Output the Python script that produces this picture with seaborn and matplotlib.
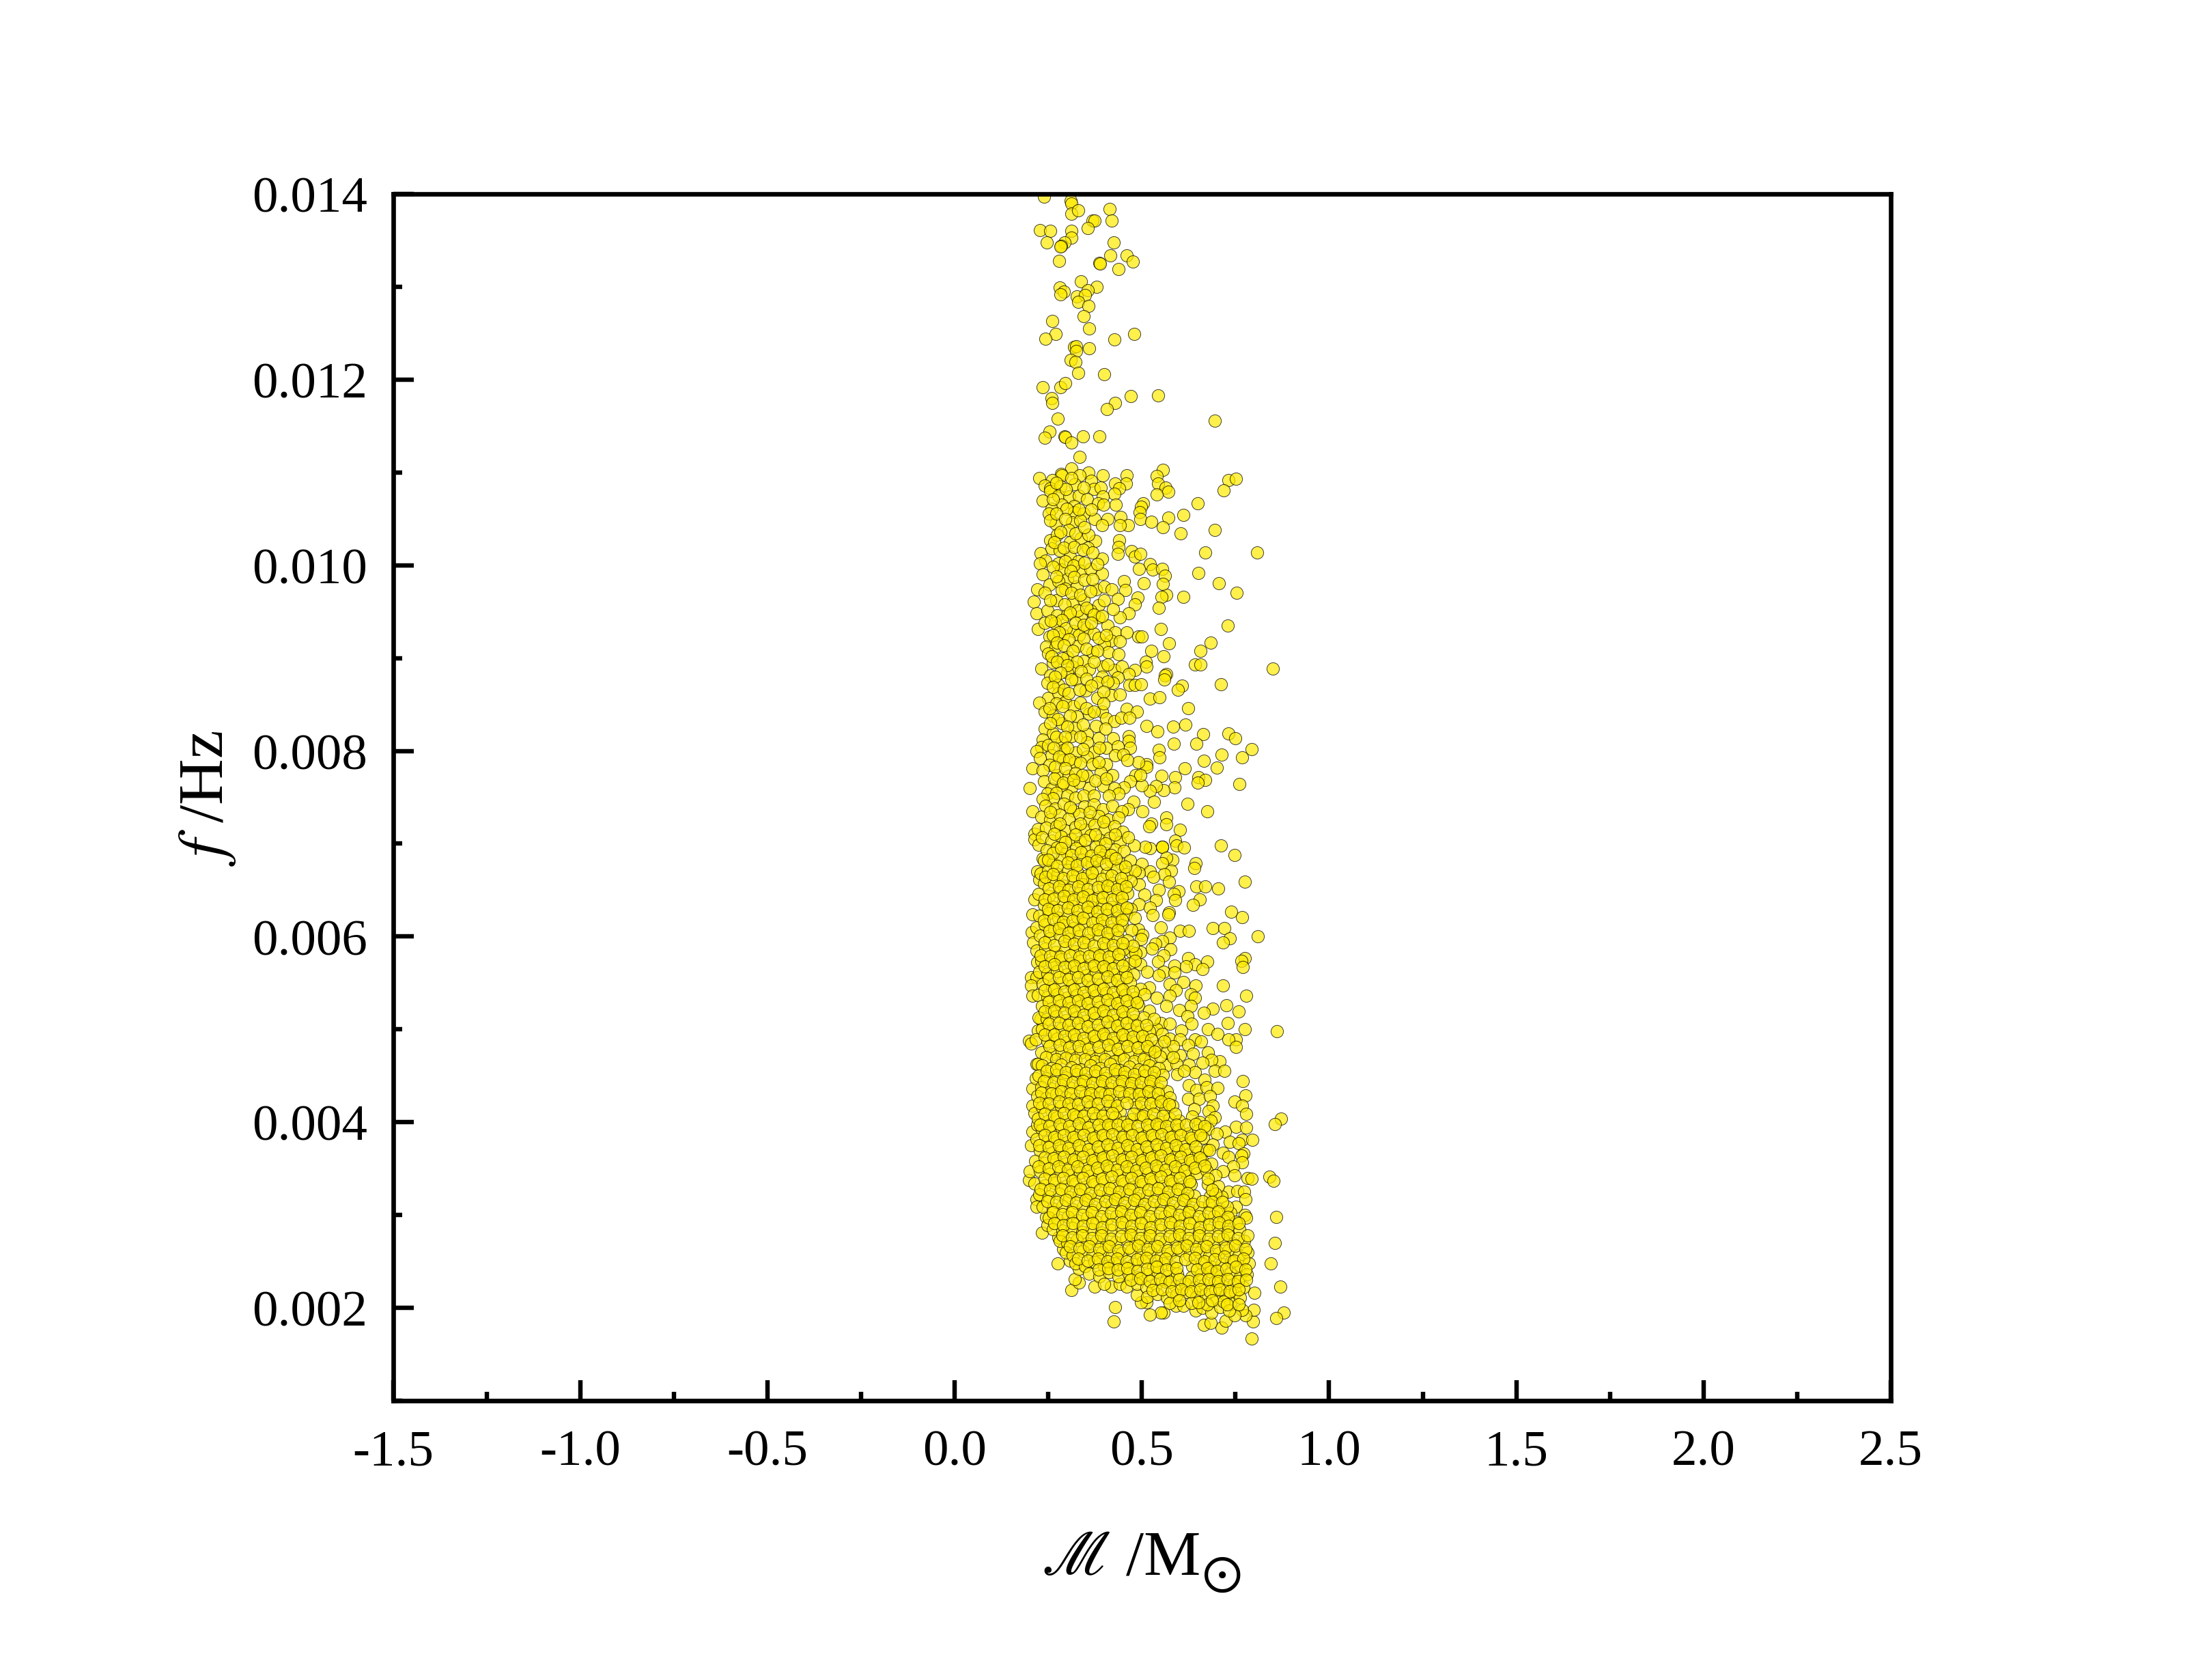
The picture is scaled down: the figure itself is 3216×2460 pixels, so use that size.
import pandas as pd
import matplotlib
matplotlib.use('Agg')
import matplotlib.pyplot as plt
from matplotlib.ticker import MultipleLocator
import seaborn as sns

# chirp mass, frequency pairs, from the top of the cloud down
points_top = [
(.238,.01397),(.309,.01393),(.312,.01390),(.311,.01379),(.330,.01382),(.413,.01384),(.419,.01371),(.368,.01371),
(.374,.01371),(.356,.01363),(.227,.01361),(.255,.01360),(.312,.01360),(.312,.01353),(.246,.01348),(.425,.01348),
(.293,.01348),(.285,.01344),(.282,.01343),(.415,.01334),(.459,.01334),(.475,.01327),(.279,.01328),(.387,.01326),
(.389,.01325),(.438,.01319),(.337,.01306),(.281,.01299),(.379,.01300),(.355,.01296),(.292,.01295),(.283,.01292),
(.327,.01290),(.348,.01291),(.330,.01284),(.358,.01279),(.345,.01268),(.260,.01263),(.360,.01255),(.269,.01249),
(.243,.01244),(.480,.01249),(.427,.01243),(.319,.01235),(.325,.01236),(.325,.01231),(.359,.01234),(.309,.01221),
(.323,.01219),(.330,.01207),(.400,.01206),(.236,.01192),(.283,.01192),(.295,.01196),(.471,.01182),(.544,.01183),
(.259,.01180),(.261,.01175),(.429,.01175),(.406,.01168),(.275,.01158),(.695,.01156),(.254,.01144),(.240,.01137),
(.294,.01139),(.295,.01138),(.311,.01132),(.343,.01139),(.387,.01139),(.334,.01117),(.311,.01104),
]
points_upper = [
(.226,.01094),(.556,.01103),(.539,.01096),(.544,.01088),(.563,.01084),(.571,.01079),(.539,.01076),(.732,.01092),
(.751,.01093),(.719,.01081),(.649,.01067),(.504,.01067),(.498,.01063),(.494,.01057),(.495,.01050),(.611,.01054),
(.570,.01051),(.525,.01047),(.460,.01097),(.458,.01088),(.396,.01097),(.429,.01088),(.440,.01083),(.426,.01077),
(.430,.01065),(.443,.01052),(.409,.01050),(.374,.01050),(.285,.01098),(.286,.01097),(.357,.01100),(.334,.01097),
(.260,.01092),(.241,.01086),(.255,.01083),(.283,.01085),(.320,.01087),(.365,.01091),(.371,.01082),(.390,.01084),
(.255,.01080),(.277,.01075),(.306,.01074),(.332,.01075),(.353,.01071),(.396,.01074),(.236,.01070),(.286,.01065),
(.258,.01061),(.319,.01064),(.382,.01067),(.398,.01065),(.252,.01056),(.319,.01057),(.344,.01056),(.269,.01045),
(.314,.01046),(.335,.01048),(.393,.01043),(.463,.01043),(.441,.01043),(.256,.01048),
(.604,.01034),(.695,.01038),(.556,.01041),(.669,.01014),(.808,.01014),(.650,.00992),(.706,.00981),(.753,.00970),
(.610,.00966),(.566,.00968),(.553,.00966),(.545,.00954),(.729,.00935),(.550,.00931),(.684,.00917),(.573,.00916),
(.657,.00908),(.525,.00908),(.557,.00902),(.642,.00893),(.657,.00893),(.849,.00889),(.511,.00896),(.513,.00891),
(.565,.00883),(.562,.00881),(.559,.00877),(.607,.00870),(.597,.00866),(.711,.00872),(.521,.00856),(.547,.00858),
(.624,.00846),(.512,.00827),(.542,.00821),(.584,.00826),(.616,.00828),(.664,.00818),(.732,.00819),(.749,.00814),
(.586,.00808),(.646,.00808),(.794,.00802),(.545,.00801),(.547,.00793),(.712,.00796),(.768,.00793),(.666,.00789),
(.701,.00782),(.615,.00781),(.512,.00786),(.513,.00783),(.491,.00788),(.553,.00773),(.588,.00772),(.651,.00772),
(.669,.00769),(.649,.00766),(.760,.00764),(.587,.00761),(.557,.00758),(.538,.00762),(.521,.00757),(.499,.00763),
(.484,.00774),(.496,.00774),(.200,.00760),(.208,.00781),
(.472,.01015),(.481,.01009),(.495,.01012),(.521,.01001),(.493,.00996),(.529,.00995),(.554,.00996),(.561,.00989),
(.556,.00980),(.505,.00981),(.488,.00965),(.481,.00958),(.464,.00948),(.441,.00944),(.453,.00983),(.456,.00973),
(.440,.01027),(.438,.01020),(.436,.01012),(.394,.00991),(.393,.01007),(.376,.01026),(.229,.01013),(.243,.01005),
(.227,.01002),(.235,.00990),(.221,.00974),(.212,.00961),(.219,.00948),(.222,.00931),(.256,.01027),(.259,.01018),
(.274,.01033),(.281,.01016),(.308,.01025),(.337,.01029),(.358,.01033),(.356,.01019),(.308,.01009),(.330,.01004),
(.277,.01002),(.285,.00995),(.335,.00994),(.362,.00996),(.381,.01001),(.301,.00985),(.253,.00979),(.277,.00983),
(.326,.00977),(.377,.00974),(.399,.00977),(.420,.00974),(.435,.00964),(.241,.00970),(.271,.00962),(.315,.00960),
(.344,.00963),(.384,.00957),(.423,.00953),(.399,.00962),(.247,.00951),(.274,.00946),(.301,.00947),(.338,.00945),
(.384,.00944),(.362,.00951),(.241,.00938),(.268,.00938),(.317,.00929),(.353,.00932),(.408,.00935),(.429,.00928),
(.459,.00928),(.490,.00923),(.499,.00923),(.253,.00923),(.289,.00925),(.332,.00925),(.371,.00926),(.417,.00919),
(.441,.00918),(.244,.00912),(.269,.00912),(.329,.00913),(.368,.00906),(.399,.00915),(.411,.00906),(.438,.00904),
(.250,.00905),(.301,.00901),(.344,.00897),(.232,.00889),(.262,.00895),(.314,.00891),(.359,.00888),(.396,.00891),
(.426,.00887),(.447,.00891),(.481,.00887),(.464,.00883),(.256,.00881),(.301,.00884),(.323,.00877),(.393,.00880),
(.435,.00879),(.247,.00873),(.277,.00871),(.350,.00865),(.381,.00874),(.423,.00873),(.466,.00871),(.481,.00871),
(.498,.00872),(.250,.00857),(.277,.00862),(.226,.00852),(.295,.00853),(.317,.00848),(.381,.00857),(.417,.00860),
(.441,.00861),(.241,.00842),(.262,.00838),(.326,.00837),(.359,.00840),(.393,.00842),(.405,.00835),(.426,.00832),
(.459,.00845),(.486,.00842),(.444,.00836),(.466,.00836),(.286,.00830),(.241,.00824),(.320,.00825),(.377,.00827),
(.262,.00819),(.311,.00816),(.353,.00818),(.384,.00814),(.423,.00814),(.464,.00816),(.464,.00811),(.235,.00812),
(.286,.00809),(.353,.00809),(.405,.00803),(.436,.00805),(.469,.00803),(.232,.00804),(.218,.00800),(.250,.00806),
(.259,.00795),(.292,.00801),(.323,.00798),(.371,.00799),(.429,.00795),(.450,.00796),(.228,.00792),(.289,.00790),
(.353,.00794),(.462,.00790),(.405,.00786),(.253,.00785),(.235,.00779),(.320,.00788),(.368,.00786),(.274,.00774),
(.238,.00767),(.304,.00773),(.353,.00773),(.390,.00777),(.422,.00774),(.469,.00767),(.453,.00761),(.259,.00759),
(.312,.00761),(.359,.00760),(.398,.00762),(.426,.00760),(.438,.00754),(.247,.00754),(.286,.00763),(.332,.00766),
]
points_upper_dense = [
(.262,.01071),(.297,.01082),(.311,.01094),(.345,.01084),(.272,.01089),(.299,.01061),(.331,.01060),(.364,.01060),(.271,.01056),(.295,.01050),
(.305,.01038),(.283,.01036),(.322,.01034),(.346,.01041),(.267,.01025),(.292,.01019),(.319,.01020),(.343,.01017),(.369,.01014),(.296,.01004),
(.318,.01000),(.347,.01003),(.262,.00998),(.309,.00994),(.272,.00988),(.296,.00975),(.319,.00987),(.347,.00984),(.368,.00985),(.286,.00973),
(.311,.00970),(.336,.00968),(.362,.00972),(.256,.00962),(.293,.00958),(.329,.00951),(.308,.00949),(.352,.00954),(.372,.00947),(.286,.00941),
(.257,.00940),(.298,.00932),(.322,.00938),(.344,.00936),(.365,.00938),(.393,.00945),(.278,.00928),(.262,.00925),(.305,.00920),(.344,.00921),
(.385,.00922),(.405,.00925),(.273,.00917),(.292,.00914),(.316,.00908),(.352,.00910),(.381,.00908),(.288,.00900),(.258,.00902),(.274,.00896),
(.326,.00896),(.301,.00892),(.338,.00886),(.372,.00896),(.409,.00893),(.283,.00884),(.268,.00880),(.312,.00877),(.352,.00878),(.409,.00875),
(.262,.00869),(.292,.00866),(.305,.00862),(.334,.00866),(.364,.00870),(.397,.00864),(.271,.00851),(.288,.00848),(.336,.00852),(.352,.00846),
(.397,.00851),(.253,.00846),(.308,.00838),(.275,.00834),(.343,.00828),(.372,.00842),(.301,.00826),(.255,.00830),(.272,.00815),(.295,.00815),
(.335,.00815),(.402,.00824),(.300,.00803),(.265,.00803),(.342,.00802),(.386,.00803),(.278,.00794),(.306,.00791),(.336,.00787),(.384,.00788),
(.268,.00783),(.296,.00781),(.323,.00776),(.266,.00770),(.340,.00774),(.290,.00766),(.376,.00768),(.318,.00769),(.405,.00770),(.272,.00755),
(.300,.00752),(.322,.00750),(.345,.00752),(.372,.00752),(.412,.00752),(.262,.00749),(.235,.00748),
]
points_middle = [
(.207,.00735),(.622,.00743),(.674,.00735),(.533,.00745),(.478,.00745),(.502,.00735),(.463,.00737),(.566,.00728),
(.566,.00721),(.525,.00722),(.520,.00719),(.601,.00715),(.588,.00703),(.711,.00698),(.747,.00688),(.593,.00698),
(.612,.00696),(.554,.00697),(.554,.00697),(.554,.00697),(.522,.00695),(.508,.00697),(.479,.00698),(.581,.00683),
(.566,.00685),(.554,.00679),(.643,.00679),(.640,.00674),(.499,.00678),(.522,.00670),(.578,.00671),(.560,.00667),
(.530,.00664),(.573,.00659),(.493,.00669),(.492,.00656),(.775,.00659),(.646,.00654),(.669,.00654),(.704,.00652),
(.546,.00650),(.598,.00649),(.585,.00646),(.589,.00639),(.506,.00645),(.538,.00639),(.655,.00640),(.636,.00634),
(.492,.00635),(.521,.00631),(.528,.00623),(.572,.00626),(.570,.00624),(.739,.00627),(.767,.00621),(.550,.00610),
(.601,.00606),(.626,.00606),(.690,.00609),(.720,.00609),(.809,.00600),(.735,.00598),(.716,.00594),(.574,.00599),
(.554,.00595),(.536,.00592),(.527,.00587),(.576,.00586),(.490,.00608),(.502,.00602),(.497,.00597),(.496,.00583),
(.472,.00583),(.484,.00582),(.624,.00577),(.557,.00580),(.543,.00573),(.587,.00569),(.675,.00573),(.642,.00570),
(.618,.00568),(.661,.00565),(.775,.00577),(.765,.00574),(.770,.00567),(.495,.00570),(.514,.00562),(.557,.00562),
(.587,.00561),(.545,.00558),(.611,.00551),(.575,.00549),(.643,.00547),(.717,.00547),(.520,.00545),(.496,.00544),
(.590,.00542),(.630,.00538),(.779,.00536),(.642,.00534),(.539,.00534),(.575,.00536),(.630,.00525),(.726,.00526),
(.566,.00525),(.690,.00522),(.758,.00519),(.666,.00518),(.599,.00521),(.490,.00526),(.519,.00520),(.621,.00514),
(.729,.00507),(.551,.00507),(.575,.00506),(.633,.00506),(.774,.00500),(.861,.00498),(.677,.00500),(.605,.00499),
(.539,.00500),(.702,.00495),(.752,.00489),(.731,.00489),(.751,.00481),(.642,.00489),(.659,.00487),(.554,.00495),
(.575,.00490),(.602,.00489),(.624,.00483),(.676,.00475),(.636,.00474),(.708,.00466),(.686,.00467),(.661,.00464),
(.626,.00462),(.539,.00482),(.566,.00475),(.602,.00472),(.584,.00482),(.524,.00467),(.565,.00461),(.694,.00455),
(.721,.00455),(.642,.00454),(.593,.00463),
(.206,.00605),(.210,.00594),(.207,.00624),(.214,.00640),(.220,.00670),(.226,.00661),(.235,.00684),(.213,.00711),
(.213,.00705),(.222,.00716),(.224,.00699),(.221,.00572),(.205,.00556),(.218,.00556),(.205,.00547),(.207,.00536),
(.198,.00488),(.204,.00485),(.229,.00511),(.222,.00499),(.219,.00463),
(.243,.00741),(.268,.00738),(.291,.00743),(.318,.00736),(.347,.00740),(.372,.00742),(.396,.00737),(.421,.00741),(.447,.00735),
(.232,.00729),(.256,.00726),(.281,.00731),(.305,.00727),(.333,.00732),(.359,.00725),(.384,.00730),(.411,.00726),(.437,.00728),
(.244,.00717),(.271,.00719),(.295,.00714),(.322,.00718),(.349,.00715),(.373,.00720),(.401,.00716),(.426,.00719),(.449,.00713),
(.234,.00707),(.258,.00703),(.284,.00708),(.311,.00705),(.336,.00702),(.362,.00709),(.388,.00704),(.414,.00706),(.441,.00702),(.463,.00707),
(.246,.00693),(.273,.00696),(.299,.00691),(.325,.00695),(.351,.00692),(.377,.00697),(.403,.00690),(.429,.00694),(.452,.00692),
(.238,.00682),(.262,.00679),(.287,.00684),(.314,.00680),(.340,.00683),(.366,.00678),(.392,.00685),(.418,.00681),(.444,.00678),(.469,.00682),
(.229,.00668),(.250,.00671),(.276,.00667),(.302,.00672),(.328,.00669),(.354,.00666),(.380,.00671),(.406,.00668),(.433,.00673),(.458,.00667),(.481,.00671),
(.239,.00657),(.265,.00659),(.291,.00655),(.317,.00660),(.343,.00656),(.369,.00661),(.395,.00654),(.421,.00658),(.447,.00656),(.471,.00660),
(.225,.00646),(.252,.00644),(.278,.00648),(.304,.00643),(.331,.00647),(.357,.00645),(.383,.00642),(.409,.00648),(.435,.00644),(.461,.00647),
(.238,.00634),(.263,.00632),(.289,.00637),(.316,.00633),(.342,.00636),(.368,.00631),(.394,.00635),(.420,.00632),(.446,.00634),(.470,.00630),
(.226,.00622),(.251,.00625),(.277,.00620),(.303,.00624),(.329,.00621),(.355,.00626),(.381,.00619),(.407,.00623),(.433,.00620),(.458,.00624),(.482,.00620),
(.219,.00610),(.240,.00613),(.266,.00608),(.292,.00612),(.318,.00609),(.344,.00614),(.370,.00607),(.396,.00611),(.422,.00608),(.447,.00612),(.472,.00607),
(.228,.00601),(.254,.00598),(.280,.00602),(.306,.00597),(.332,.00600),(.358,.00596),(.384,.00601),(.410,.00597),(.436,.00599),(.461,.00596),
(.218,.00585),(.243,.00587),(.269,.00583),(.295,.00588),(.321,.00584),(.347,.00586),(.373,.00582),(.399,.00587),(.425,.00583),(.451,.00586),(.476,.00590),
(.232,.00574),(.258,.00572),(.284,.00575),(.310,.00571),(.336,.00574),(.362,.00570),(.388,.00576),(.414,.00572),(.440,.00575),(.466,.00571),(.482,.00574),
(.226,.00562),(.247,.00560),(.273,.00563),(.299,.00559),(.325,.00562),(.351,.00558),(.377,.00561),(.403,.00564),(.429,.00559),(.455,.00562),(.477,.00559),
(.235,.00549),(.261,.00546),(.287,.00550),(.313,.00547),(.339,.00549),(.365,.00545),(.391,.00548),(.417,.00551),(.443,.00546),(.469,.00550),
(.222,.00537),(.248,.00535),(.274,.00538),(.300,.00534),(.326,.00537),(.352,.00533),(.378,.00536),(.404,.00539),(.430,.00534),(.456,.00537),(.482,.00534),(.507,.00538),
(.233,.00525),(.259,.00522),(.285,.00526),(.311,.00523),(.337,.00525),(.363,.00521),(.389,.00524),(.415,.00527),(.441,.00522),(.467,.00525),
(.224,.00513),(.246,.00511),(.272,.00514),(.298,.00510),(.324,.00513),(.350,.00509),(.376,.00512),(.402,.00515),(.428,.00510),(.454,.00513),(.480,.00510),(.505,.00513),(.533,.00511),
(.234,.00500),(.260,.00498),(.286,.00501),(.312,.00497),(.338,.00500),(.364,.00496),(.390,.00499),(.416,.00502),(.442,.00497),(.468,.00500),(.494,.00497),(.520,.00498),
(.216,.00489),(.247,.00487),(.273,.00490),(.299,.00486),(.325,.00489),(.351,.00485),(.377,.00488),(.403,.00491),(.429,.00486),(.455,.00489),(.481,.00486),(.507,.00488),(.560,.00487),
(.231,.00475),(.260,.00473),(.286,.00476),(.312,.00472),(.338,.00475),(.364,.00471),(.390,.00474),(.416,.00477),(.442,.00472),(.468,.00475),(.494,.00472),(.520,.00478),(.548,.00471),(.583,.00470),
]
points_middle_dense = [
(.256,.00734),(.281,.00722),(.308,.00739),(.336,.00722),(.361,.00734),(.398,.00724),(.266,.00711),(.296,.00702),(.322,.00710),(.349,.00704),
(.376,.00710),(.402,.00700),(.428,.00710),(.262,.00690),(.285,.00695),(.312,.00688),(.338,.00691),(.364,.00687),(.389,.00692),(.417,.00688),
(.250,.00683),(.274,.00676),(.302,.00680),(.327,.00677),(.353,.00680),(.380,.00682),(.405,.00678),(.431,.00684),(.456,.00675),(.243,.00664),
(.263,.00667),(.289,.00663),(.315,.00666),(.341,.00663),(.367,.00669),(.393,.00662),(.419,.00666),(.445,.00663),(.252,.00652),(.278,.00654),
(.304,.00650),(.330,.00654),(.356,.00651),(.382,.00653),(.408,.00655),(.434,.00651),(.458,.00654),(.240,.00640),(.265,.00641),(.291,.00644),
(.317,.00640),(.343,.00643),(.369,.00639),(.395,.00642),(.421,.00640),(.447,.00642),(.250,.00630),(.276,.00628),(.302,.00631),(.329,.00628),
(.355,.00632),(.381,.00627),(.407,.00630),(.433,.00628),(.459,.00631),(.238,.00617),(.264,.00619),(.290,.00616),(.316,.00617),(.342,.00620),
(.368,.00615),(.394,.00618),(.420,.00615),(.446,.00618),(.253,.00606),(.279,.00609),(.305,.00604),(.331,.00607),(.357,.00604),(.383,.00608),
(.409,.00604),(.435,.00607),(.241,.00594),(.267,.00591),(.293,.00595),(.319,.00592),(.345,.00594),(.371,.00590),(.397,.00593),(.423,.00591),
(.449,.00593),(.230,.00580),(.256,.00579),(.282,.00578),(.308,.00580),(.334,.00578),(.360,.00579),(.386,.00580),(.412,.00578),(.438,.00581),
(.241,.00568),(.267,.00570),(.293,.00567),(.319,.00569),(.345,.00566),(.371,.00569),(.397,.00568),(.423,.00566),(.449,.00569),(.252,.00555),
(.278,.00556),(.304,.00554),(.330,.00556),(.356,.00553),(.382,.00555),(.408,.00557),(.434,.00553),(.460,.00556),(.241,.00542),(.267,.00543),
(.293,.00541),(.319,.00543),(.345,.00540),(.371,.00542),(.397,.00544),(.423,.00540),(.449,.00543),(.475,.00541),(.252,.00530),(.278,.00531),
(.304,.00529),(.330,.00531),(.356,.00528),(.382,.00530),(.408,.00532),(.434,.00528),(.460,.00531),(.486,.00529),(.241,.00519),(.267,.00520),
(.293,.00518),(.319,.00520),(.345,.00516),(.371,.00518),(.397,.00520),(.423,.00516),(.449,.00519),(.475,.00517),(.252,.00506),(.278,.00507),
(.304,.00505),(.330,.00507),(.356,.00503),(.382,.00505),(.408,.00508),(.434,.00504),(.460,.00507),(.486,.00504),(.512,.00505),(.241,.00494),
(.267,.00494),(.293,.00493),(.319,.00494),(.345,.00491),(.371,.00493),(.397,.00495),(.423,.00491),(.449,.00494),(.475,.00492),(.501,.00493),
(.525,.00489),(.254,.00482),(.280,.00483),(.306,.00480),(.332,.00482),(.358,.00479),(.384,.00481),(.410,.00483),(.436,.00479),(.462,.00482),
(.488,.00480),(.514,.00482),(.245,.00470),(.271,.00468),(.297,.00469),(.323,.00467),(.349,.00468),(.375,.00466),(.401,.00468),(.427,.00466),
(.453,.00468),(.479,.00466),(.505,.00468),(.535,.00476),
]
points_lower = [
(.770,.00444),(.777,.00429),(.747,.00422),(.767,.00418),(.778,.00409),(.872,.00404),(.856,.00398),(.752,.00395),
(.779,.00394),(.722,.00390),(.735,.00379),(.767,.00381),(.795,.00381),(.758,.00377),(.716,.00367),(.732,.00363),
(.771,.00366),(.765,.00364),(.768,.00357),(.744,.00352),(.717,.00347),(.747,.00343),(.782,.00340),(.794,.00339),
(.841,.00341),(.852,.00337),(.731,.00325),(.755,.00326),(.773,.00325),(.776,.00317),(.712,.00320),(.751,.00309),
(.736,.00302),(.774,.00300),(.778,.00297),(.858,.00298),(.856,.00270),(.845,.00248),(.869,.00223),(.800,.00216),
(.878,.00195),(.858,.00189),(.793,.00167),(.797,.00185),(.713,.00179),(.723,.00186),(.666,.00182),(.683,.00184),
(.644,.00197),(.661,.00200),(.686,.00195),(.590,.00202),(.557,.00195),(.551,.00195),(.521,.00193),(.513,.00206),
(.497,.00206),(.486,.00214),(.429,.00201),(.425,.00185),(.311,.00219),(.331,.00227),(.320,.00231),(.276,.00248),
(.374,.00223),(.418,.00223),(.441,.00226),(.332,.00242),(.233,.00281),(.798,.00198),(.776,.00192),(.767,.00198),
(.748,.00192),(.736,.00206),(.700,.00209),(.709,.00201),
(.199,.00338),(.201,.00347),(.204,.00375),(.207,.00390),(.207,.00418),(.213,.00410),(.207,.00436),(.216,.00447),
(.222,.00463),(.220,.00397),(.219,.00317),(.219,.00309),(.244,.00298),(.247,.00289),(.277,.00276),(.289,.00263),(.308,.00251),
]
points_core = [
(.233,.00461),(.259,.00458),(.285,.00462),(.311,.00459),(.337,.00457),(.363,.00461),(.389,.00458),(.415,.00463),(.441,.00456),(.467,.00460),(.493,.00457),(.519,.00461),(.545,.00458),(.595,.00452),(.612,.00455),
(.224,.00450),(.246,.00447),(.272,.00451),(.298,.00448),(.324,.00452),(.350,.00446),(.376,.00450),(.402,.00447),(.428,.00452),(.454,.00449),(.480,.00446),(.506,.00450),(.532,.00447),(.556,.00451),(.667,.00446),
(.232,.00438),(.258,.00436),(.284,.00440),(.310,.00437),(.336,.00441),(.362,.00435),(.388,.00439),(.414,.00436),(.440,.00440),(.466,.00437),(.492,.00435),(.518,.00439),(.544,.00436),(.567,.00433),(.625,.00440),(.645,.00435),(.672,.00438),(.702,.00437),
(.220,.00428),(.245,.00426),(.271,.00430),(.297,.00427),(.323,.00425),(.349,.00429),(.375,.00426),(.401,.00430),(.427,.00424),(.453,.00428),(.479,.00425),(.505,.00429),(.531,.00426),(.557,.00423),(.575,.00427),(.623,.00425),(.652,.00425),(.681,.00428),(.690,.00418),
(.233,.00416),(.259,.00413),(.285,.00417),(.311,.00414),(.337,.00412),(.363,.00416),(.389,.00413),(.415,.00418),(.441,.00411),(.485,.00416),(.511,.00413),(.537,.00417),(.563,.00414),(.581,.00418),(.640,.00414),(.678,.00412),(.695,.00405),
(.222,.00404),(.247,.00401),(.273,.00405),(.299,.00402),(.325,.00406),(.351,.00400),(.377,.00404),(.403,.00401),(.429,.00405),(.450,.00400),(.472,.00403),(.498,.00405),(.524,.00402),(.550,.00400),(.575,.00404),(.600,.00402),(.634,.00406),(.655,.00400),(.683,.00402),
(.234,.00392),(.260,.00390),(.286,.00393),(.312,.00389),(.338,.00392),(.364,.00388),(.390,.00391),(.416,.00394),(.442,.00389),(.468,.00392),(.494,.00388),(.520,.00391),(.546,.00394),(.572,.00389),(.598,.00392),(.624,.00388),(.650,.00391),(.676,.00393),(.700,.00388),
(.218,.00382),(.247,.00379),(.273,.00382),(.299,.00378),(.325,.00381),(.351,.00377),(.377,.00380),(.403,.00383),(.429,.00378),(.455,.00381),(.481,.00377),(.507,.00380),(.533,.00383),(.559,.00378),(.585,.00381),(.611,.00377),(.637,.00380),(.663,.00383),(.690,.00376),
(.228,.00369),(.260,.00367),(.286,.00370),(.312,.00366),(.338,.00369),(.364,.00365),(.390,.00368),(.416,.00371),(.442,.00366),(.468,.00369),(.494,.00365),(.520,.00368),(.546,.00371),(.572,.00366),(.598,.00369),(.624,.00365),(.650,.00368),(.672,.00370),
(.215,.00358),(.240,.00356),(.270,.00359),(.296,.00355),(.322,.00358),(.348,.00354),(.374,.00357),(.400,.00360),(.426,.00355),(.452,.00358),(.478,.00354),(.504,.00357),(.530,.00360),(.556,.00355),(.582,.00358),(.608,.00354),(.634,.00357),(.660,.00360),(.686,.00355),
(.228,.00347),(.254,.00344),(.283,.00347),(.309,.00343),(.335,.00346),(.361,.00342),(.387,.00345),(.413,.00348),(.439,.00343),(.465,.00346),(.491,.00342),(.517,.00345),(.543,.00348),(.569,.00343),(.595,.00346),(.621,.00342),(.647,.00345),(.673,.00348),(.697,.00343),
(.214,.00334),(.241,.00332),(.267,.00335),(.296,.00331),(.322,.00334),(.348,.00330),(.374,.00333),(.400,.00336),(.426,.00331),(.452,.00334),(.478,.00330),(.504,.00333),(.530,.00336),(.556,.00331),(.582,.00334),(.608,.00330),(.630,.00333),(.676,.00333),(.704,.00331),
(.226,.00322),(.252,.00320),(.278,.00323),(.306,.00319),(.332,.00322),(.358,.00318),(.384,.00321),(.410,.00324),(.436,.00319),(.462,.00322),(.488,.00318),(.514,.00321),(.540,.00324),(.566,.00319),(.592,.00322),(.618,.00318),(.640,.00321),(.682,.00320),(.696,.00323),
(.236,.00309),(.262,.00307),(.288,.00310),(.316,.00306),(.342,.00309),(.368,.00305),(.394,.00308),(.420,.00311),(.446,.00306),(.472,.00309),(.498,.00305),(.524,.00308),(.550,.00311),(.576,.00306),(.602,.00309),(.628,.00305),(.654,.00308),(.680,.00311),(.706,.00306),(.728,.00309),
(.252,.00297),(.276,.00295),(.302,.00298),(.328,.00294),(.354,.00297),(.380,.00293),(.406,.00296),(.432,.00299),(.458,.00294),(.484,.00297),(.510,.00293),(.536,.00296),(.562,.00299),(.588,.00294),(.614,.00297),(.640,.00293),(.666,.00296),(.692,.00299),(.718,.00294),(.752,.00293),
(.262,.00285),(.288,.00283),(.314,.00286),(.340,.00282),(.366,.00285),(.392,.00281),(.418,.00284),(.444,.00287),(.470,.00282),(.496,.00285),(.522,.00281),(.548,.00284),(.574,.00287),(.600,.00282),(.626,.00285),(.652,.00281),(.678,.00284),(.704,.00287),(.730,.00282),(.761,.00285),
(.280,.00272),(.301,.00270),(.327,.00273),(.353,.00269),(.379,.00272),(.405,.00268),(.431,.00271),(.457,.00274),(.483,.00269),(.509,.00272),(.535,.00268),(.561,.00271),(.587,.00274),(.613,.00269),(.639,.00272),(.665,.00268),(.691,.00271),(.717,.00274),(.743,.00269),(.773,.00272),
(.298,.00260),(.316,.00257),(.342,.00261),(.368,.00257),(.394,.00260),(.420,.00256),(.446,.00259),(.472,.00262),(.498,.00257),(.524,.00260),(.550,.00256),(.576,.00259),(.602,.00262),(.628,.00257),(.654,.00260),(.680,.00256),(.706,.00259),(.732,.00262),(.758,.00257),(.783,.00260),
(.322,.00248),(.348,.00245),(.374,.00249),(.400,.00245),(.426,.00248),(.452,.00244),(.478,.00247),(.504,.00250),(.530,.00245),(.556,.00248),(.582,.00244),(.634,.00245),(.660,.00248),(.686,.00244),(.712,.00247),(.738,.00250),(.764,.00245),(.786,.00248),
(.360,.00237),(.386,.00234),(.412,.00238),(.438,.00234),(.464,.00237),(.490,.00233),(.516,.00236),(.542,.00239),(.568,.00234),(.594,.00237),(.632,.00233),(.658,.00236),(.684,.00239),(.710,.00234),(.736,.00237),(.762,.00233),(.780,.00236),
(.400,.00226),(.460,.00223),(.486,.00226),(.512,.00222),(.538,.00225),(.564,.00228),(.590,.00223),(.616,.00226),(.642,.00222),(.668,.00225),(.694,.00228),(.720,.00223),(.746,.00226),(.772,.00222),
(.515,.00212),(.541,.00215),(.567,.00211),(.593,.00214),(.619,.00217),(.645,.00212),(.671,.00215),(.697,.00219),(.723,.00214),(.749,.00217),(.762,.00211),
(.575,.00205),(.610,.00202),(.632,.00205),(.675,.00204),(.718,.00207),(.733,.00197),
]
points_core_dense = [
(.246,.00455),(.272,.00457),(.298,.00454),(.324,.00456),(.350,.00453),(.376,.00455),(.402,.00453),(.428,.00457),(.454,.00454),(.480,.00452),(.506,.00455),(.532,.00454),
(.238,.00444),(.264,.00443),(.290,.00445),(.316,.00443),(.342,.00444),(.368,.00442),(.394,.00444),(.420,.00443),(.446,.00444),(.472,.00442),(.498,.00443),(.524,.00444),(.550,.00443),
(.232,.00432),(.258,.00431),(.284,.00433),(.310,.00431),(.336,.00433),(.362,.00431),(.388,.00432),(.414,.00430),(.440,.00433),(.466,.00431),(.492,.00430),(.518,.00433),(.544,.00431),
(.226,.00421),(.252,.00420),(.278,.00422),(.304,.00420),(.330,.00419),(.356,.00422),(.382,.00420),(.408,.00423),(.434,.00418),(.460,.00421),(.498,.00421),(.524,.00420),(.550,.00422),(.572,.00419),
(.240,.00409),(.266,.00407),(.292,.00410),(.318,.00408),(.344,.00407),(.370,.00410),(.396,.00407),(.422,.00410),(.478,.00409),(.504,.00407),(.530,.00409),(.556,.00407),(.588,.00409),
(.228,.00397),(.254,.00396),(.280,.00398),(.306,.00396),(.332,.00399),(.358,.00394),(.384,.00397),(.410,.00397),(.436,.00397),(.462,.00397),(.488,.00396),(.514,.00397),(.540,.00398),(.566,.00396),(.592,.00397),(.618,.00397),(.644,.00398),(.668,.00396),
(.240,.00386),(.266,.00384),(.292,.00386),(.318,.00384),(.344,.00386),(.370,.00383),(.396,.00386),(.422,.00387),(.448,.00384),(.474,.00386),(.500,.00383),(.526,.00386),(.552,.00387),(.578,.00384),(.604,.00386),(.630,.00383),(.656,.00386),
(.226,.00375),(.252,.00373),(.279,.00375),(.305,.00372),(.331,.00375),(.357,.00371),(.383,.00374),(.409,.00376),(.435,.00372),(.461,.00375),(.487,.00371),(.513,.00374),(.539,.00376),(.565,.00372),(.591,.00375),(.617,.00371),(.643,.00374),(.680,.00370),
(.240,.00362),(.265,.00361),(.291,.00363),(.317,.00360),(.343,.00363),(.369,.00359),(.395,.00362),(.421,.00364),(.447,.00360),(.473,.00363),(.499,.00359),(.525,.00362),(.551,.00364),(.577,.00360),(.603,.00363),(.629,.00359),(.655,.00362),
(.225,.00352),(.252,.00350),(.277,.00352),(.303,.00349),(.329,.00352),(.355,.00348),(.381,.00351),(.407,.00353),(.433,.00349),(.459,.00352),(.485,.00348),(.511,.00351),(.537,.00353),(.563,.00349),(.589,.00352),(.615,.00348),(.641,.00351),(.667,.00353),
(.240,.00339),(.266,.00338),(.290,.00340),(.316,.00337),(.342,.00340),(.368,.00336),(.394,.00339),(.420,.00341),(.446,.00337),(.472,.00340),(.498,.00336),(.524,.00339),(.550,.00341),(.576,.00337),(.602,.00340),(.628,.00336),(.676,.00339),
(.230,.00328),(.256,.00327),(.284,.00328),(.310,.00325),(.336,.00328),(.362,.00324),(.388,.00327),(.414,.00329),(.440,.00325),(.466,.00328),(.492,.00324),(.518,.00327),(.544,.00329),(.570,.00325),(.596,.00328),(.622,.00324),(.688,.00327),
(.248,.00315),(.272,.00314),(.298,.00316),(.324,.00313),(.350,.00316),(.376,.00312),(.402,.00315),(.428,.00317),(.454,.00313),(.480,.00316),(.506,.00312),(.532,.00315),(.558,.00317),(.584,.00313),(.610,.00316),(.636,.00312),(.662,.00315),(.688,.00314),(.714,.00314),
(.262,.00303),(.288,.00301),(.314,.00303),(.340,.00300),(.366,.00303),(.392,.00299),(.418,.00302),(.444,.00304),(.470,.00300),(.496,.00303),(.522,.00299),(.548,.00302),(.574,.00304),(.600,.00300),(.626,.00303),(.652,.00299),(.678,.00302),(.704,.00304),(.730,.00298),
(.266,.00291),(.290,.00289),(.316,.00291),(.342,.00288),(.368,.00291),(.394,.00287),(.420,.00290),(.446,.00292),(.472,.00288),(.498,.00291),(.524,.00287),(.550,.00290),(.576,.00292),(.602,.00288),(.628,.00291),(.654,.00287),(.680,.00290),(.706,.00292),(.732,.00288),(.758,.00291),
(.288,.00278),(.314,.00276),(.340,.00278),(.366,.00275),(.392,.00278),(.418,.00274),(.444,.00277),(.470,.00279),(.496,.00275),(.522,.00278),(.548,.00274),(.574,.00277),(.600,.00279),(.626,.00275),(.652,.00278),(.678,.00274),(.704,.00277),(.730,.00279),(.756,.00275),(.782,.00278),
(.308,.00266),(.334,.00264),(.360,.00266),(.386,.00263),(.412,.00266),(.438,.00262),(.464,.00265),(.490,.00267),(.516,.00263),(.542,.00266),(.568,.00262),(.594,.00265),(.620,.00267),(.646,.00263),(.672,.00266),(.698,.00262),(.724,.00265),(.750,.00267),(.776,.00263),
(.330,.00253),(.356,.00251),(.382,.00253),(.408,.00250),(.434,.00253),(.460,.00250),(.486,.00252),(.512,.00254),(.538,.00251),(.564,.00253),(.590,.00250),(.616,.00252),(.642,.00254),(.668,.00250),(.694,.00252),(.720,.00255),(.746,.00251),(.772,.00253),
(.385,.00241),(.410,.00243),(.436,.00241),(.462,.00243),(.488,.00240),(.514,.00242),(.540,.00244),(.566,.00241),(.592,.00243),(.648,.00241),(.674,.00243),(.700,.00240),(.726,.00242),(.752,.00244),(.776,.00241),
(.470,.00230),(.496,.00232),(.522,.00229),(.548,.00231),(.574,.00228),(.600,.00231),(.626,.00229),(.652,.00230),(.678,.00231),(.704,.00229),(.730,.00231),(.756,.00229),(.778,.00230),
(.528,.00219),(.554,.00220),(.580,.00218),(.606,.00220),(.630,.00218),(.656,.00220),(.682,.00218),(.708,.00220),(.734,.00218),(.758,.00220),
(.600,.00208),(.650,.00206),(.688,.00208),(.728,.00204),(.758,.00204),
]

all_points = (points_top + points_upper + points_upper_dense + points_middle + points_middle_dense
              + points_lower + points_core + points_core_dense)
mass = [p[0] for p in all_points]
freq = [p[1] for p in all_points]
x_ticks = [-1.5, -1.0, -0.5, 0.0, 0.5, 1.0, 1.5, 2.0, 2.5]
y_ticks = [0.002, 0.004, 0.006, 0.008, 0.010, 0.012, 0.014]

df = pd.DataFrame({'mass': mass, 'freq': freq})

sns.set_style('ticks')
plt.rcParams['font.family'] = ['Liberation Serif', 'DejaVu Serif']
plt.rcParams['mathtext.fontset'] = 'stix'
plt.rcParams['axes.unicode_minus'] = False
plt.rcParams['text.color'] = 'black'
plt.rcParams['axes.labelcolor'] = 'black'
plt.rcParams['xtick.color'] = 'black'
plt.rcParams['ytick.color'] = 'black'
plt.rcParams['axes.edgecolor'] = 'black'

fig = plt.figure(figsize=(10.72, 8.2033), dpi=300)
ax = fig.add_axes([575.5 / 3216, 1 - 2052 / 2461, 2193.5 / 3216, 1767 / 2461])

sns.scatterplot(data=df, x='mass', y='freq', s=19, color='#FFEB00', edgecolor='black',
                linewidth=0.25, alpha=0.7, ax=ax)

ax.set_xlim(-1.5, 2.5)
ax.set_ylim(0.001, 0.014)
ax.set_xticks(x_ticks)
ax.set_xticklabels(['%.1f' % v for v in x_ticks])
ax.set_yticks(y_ticks)
ax.set_yticklabels(['%.3f' % v for v in y_ticks])
ax.xaxis.set_minor_locator(MultipleLocator(0.25))
ax.yaxis.set_minor_locator(MultipleLocator(0.001))
ax.tick_params(which='major', direction='in', length=7.2, width=1.55, labelsize=18)
ax.tick_params(axis='x', which='major', pad=10)
ax.tick_params(axis='y', which='major', pad=9)
ax.tick_params(which='minor', direction='in', length=3.2, width=1.55)
for spine in ax.spines.values():
    spine.set_visible(True)
    spine.set_linewidth(1.6)

ax.set_xlabel(r'$\mathscr{M}$ /M', fontsize=22.5, labelpad=19, x=0.4857)
ax.set_ylabel(r'$f$ /Hz', fontsize=22.5, labelpad=5)
fig.text(1788 / 3216, 1 - 2307 / 2461, r'$\odot$', ha='center', va='center', fontsize=19)

fig.savefig('out.png', dpi=300)
